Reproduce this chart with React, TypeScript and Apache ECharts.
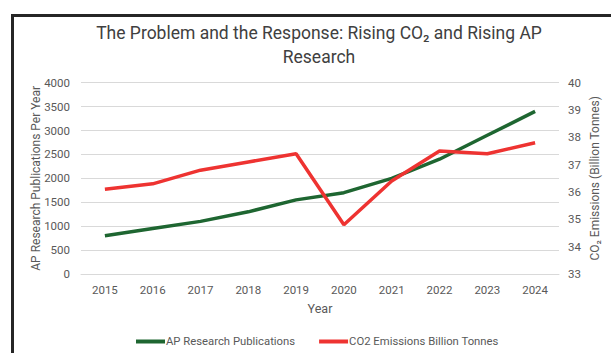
import React, { useEffect, useRef } from "react";
import * as echarts from "echarts";

const years = ["2015", "2016", "2017", "2018", "2019", "2020", "2021", "2022", "2023", "2024"];
const apPublications = [800, 950, 1100, 1300, 1550, 1700, 2000, 2400, 2900, 3400];
const co2Emissions = [36.1, 36.3, 36.8, 37.1, 37.4, 34.8, 36.4, 37.5, 37.4, 37.8];

const FONT = "Roboto";
const TEXT = "#595959";

export default function App() {
  const ref = useRef<HTMLDivElement>(null);
  useEffect(() => {
    if (!ref.current) return;
    const chart = echarts.init(ref.current, null, { renderer: "svg" });
    chart.setOption({
      animation: false,
      backgroundColor: "#ffffff",
      textStyle: { fontFamily: FONT },
      graphic: [
        {
          type: "rect",
          shape: { x: 12.5, y: 15.5, width: 640, height: 400 },
          style: { fill: "none", stroke: "#262626", lineWidth: 3 },
          silent: true,
        },
      ],
      title: {
        text: "The Problem and the Response: Rising CO₂ and Rising AP\nResearch",
        left: 314,
        textAlign: "center",
        top: 16,
        textStyle: {
          fontFamily: FONT,
          fontSize: 17.5,
          fontWeight: "normal",
          color: "#404040",
          lineHeight: 24,
        },
      },
      legend: {
        bottom: 1,
        left: 131,
        itemWidth: 29,
        itemHeight: 4,
        itemGap: 24,
        icon: "rect",
        textStyle: { fontFamily: FONT, fontSize: 11.3, color: TEXT, padding: [0, 0, 0, -4] },
        data: ["AP Research Publications", "CO2 Emissions Billion Tonnes"],
      },
      grid: { left: 81, right: 52, top: 82.7, bottom: 79 },
      xAxis: {
        type: "category",
        data: years,
        boundaryGap: true,
        name: "Year",
        nameLocation: "middle",
        nameGap: 28,
        nameTextStyle: { fontFamily: FONT, fontSize: 12.5, color: TEXT },
        axisLine: { lineStyle: { color: "#d9d9d9" } },
        axisTick: { show: false },
        axisLabel: { color: TEXT, fontSize: 11.5, margin: 10, fontFamily: FONT },
      },
      yAxis: [
        {
          type: "value",
          min: 0,
          max: 4000,
          interval: 500,
          name: "AP Research Publications Per Year",
          nameLocation: "middle",
          nameGap: 39,
          nameMoveOverlap: false,
          nameTextStyle: { fontFamily: FONT, fontSize: 12, color: TEXT },
          axisLine: { show: false },
          axisTick: { show: false },
          axisLabel: {
            color: TEXT,
            fontSize: 11.5,
            margin: 11,
            fontFamily: FONT,
            formatter: (v: number) => String(v),
          },
          splitLine: { lineStyle: { color: "#d9d9d9", width: 1 } },
        },
        {
          type: "value",
          min: 33,
          max: 40,
          interval: 1,
          name: "CO₂ Emissions (Billion Tonnes)",
          nameLocation: "middle",
          nameGap: 30,
          nameMoveOverlap: false,
          nameTextStyle: { fontFamily: FONT, fontSize: 12, color: TEXT },
          axisLine: { show: false },
          axisTick: { show: false },
          axisLabel: { color: TEXT, fontSize: 11.5, margin: 9, fontFamily: FONT },
          splitLine: { show: false },
        },
      ],
      series: [
        {
          name: "AP Research Publications",
          type: "line",
          data: apPublications,
          yAxisIndex: 0,
          showSymbol: false,
          symbol: "none",
          itemStyle: { color: "#1e6631" },
          lineStyle: { color: "#1e6631", width: 3.5 },
        },
        {
          name: "CO2 Emissions Billion Tonnes",
          type: "line",
          data: co2Emissions,
          yAxisIndex: 1,
          showSymbol: false,
          symbol: "none",
          itemStyle: { color: "#ee3331" },
          lineStyle: { color: "#ee3331", width: 3.5 },
        },
      ],
    });
    return () => chart.dispose();
  }, []);
  return (
    <div
      ref={ref}
      style={{ position: "fixed", left: 0, top: 0, width: 611, height: 353 }}
    />
  );
}
